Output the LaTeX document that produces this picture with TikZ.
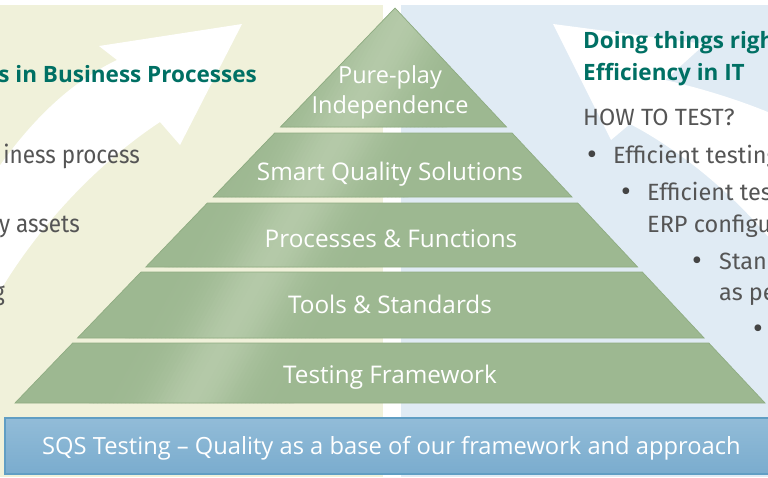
\documentclass[tikz,border=0pt]{standalone}
\usepackage{fontspec}
\setmainfont{Fira Sans}
\newfontfamily\condfont[FakeStretch=0.9]{Fira Sans}
\newfontfamily\opensans{Open Sans}
\definecolor{leftbg}{RGB}{240,241,218}
\definecolor{rightbg}{RGB}{224,235,244}
\definecolor{pyrgreen}{RGB}{157,184,145}
\definecolor{pyrlight}{RGB}{180,201,168}
\definecolor{pyredge}{RGB}{143,172,130}
\definecolor{titleteal}{RGB}{0,112,100}
\definecolor{graytext}{RGB}{85,85,85}
\definecolor{bartop}{RGB}{146,188,216}
\definecolor{barmid}{RGB}{160,196,221}
\definecolor{barbot}{RGB}{122,172,206}
\definecolor{barborder}{RGB}{96,158,196}
\tikzset{
  titletext/.style={font=\opensans\bfseries\fontsize{22.5}{26}\selectfont, text=titleteal, inner sep=0pt},
  lefttext/.style={font=\condfont\fontsize{25}{29}\selectfont, text=graytext, inner sep=0pt},
  righttext/.style={font=\fontsize{23.5}{27}\selectfont, text=graytext, inner sep=0pt},
  bullet/.style={font=\fontsize{30}{30}\selectfont, text=graytext!80!black, inner sep=0pt},
  pyrtext/.style={font=\opensans\fontsize{24.3}{28}\selectfont, text=white, inner sep=0pt},
  pyrtop/.style={font=\opensans\fontsize{23.5}{28}\selectfont, text=white, inner sep=0pt},
  bartext/.style={font=\opensans\fontsize{23.7}{28}\selectfont, text=white, inner sep=0pt},
  whitearrow/.style={fill=white},
  layer/.style={draw=pyredge, line width=0.7pt}
}
\begin{document}
\begin{tikzpicture}[x=1pt,y=-1pt]
\useasboundingbox (0,0) rectangle (768,477);
\clip (0,0) rectangle (768,477);
% backgrounds
\fill[white] (0,0) rectangle (768,477);
\fill[leftbg] (0,5) rectangle (383,477);
\fill[rightbg] (401,5) rectangle (768,477);
% white arrows
\fill[whitearrow] (-4,171) .. controls (35,115) and (75,80) .. (117,60) -- (99,46) -- (242,24)
  -- (180,145) -- (160,122) .. controls (95,165) and (35,230) .. (-4,298) -- cycle;
\fill[whitearrow] (553,24) -- (611,140) -- (630,124) .. controls (680,150) and (735,195) .. (775,245)
  -- (775,115) .. controls (740,100) and (700,88) .. (665,80) -- (705,44) -- cycle;
% pyramid
\begin{scope}
\clip (395,8) -- (506.5,127) -- (280.5,127) -- cycle
      (274.7,133) -- (512.1,133) -- (572,197) -- (213.2,197) -- cycle
      (207.4,203) -- (577.7,203) -- (637.6,267) -- (145.8,267) -- cycle
      (141,272) -- (642.3,272) -- (704.1,338) -- (77.5,338) -- cycle
      (72.7,343) -- (708.8,343) -- (765,403) -- (15,403) -- cycle;
\fill[pyrgreen] (0,0) rectangle (768,410);
\foreach \d in {-100,-96,...,100} {
  \pgfmathsetmacro\p{100*exp(-((\d/42)^2))}
  \fill[pyrlight!\p!pyrgreen] ({187.5+\d},406) -- ({192.5+\d},406) -- ({417.5+\d},0) -- ({412.5+\d},0) -- cycle;
}
\end{scope}
\draw[layer] (395,8) -- (506.5,127) -- (280.5,127) -- cycle;
\draw[layer] (274.7,133) -- (512.1,133) -- (572,197) -- (213.2,197) -- cycle;
\draw[layer] (207.4,203) -- (577.7,203) -- (637.6,267) -- (145.8,267) -- cycle;
\draw[layer] (141,272) -- (642.3,272) -- (704.1,338) -- (77.5,338) -- cycle;
\draw[layer] (72.7,343) -- (708.8,343) -- (765,403) -- (15,403) -- cycle;
% pyramid labels
\node[pyrtop, anchor=base] (pure) at (390,83) {Pure-play};
\node[pyrtop, anchor=base] (indep) at (390,113) {Independence};
\node[pyrtext, anchor=base] (smart) at (390,180) {Smart Quality Solutions};
\node[pyrtext, anchor=base] (proc) at (391,247) {Processes \& Functions};
\node[pyrtext, anchor=base] (tools) at (390,313) {Tools \& Standards};
\node[pyrtext, anchor=base] (testfw) at (390,383) {Testing Framework};
% left texts
\node[titletext, anchor=base east] (lefttitle) at (257,82) {s in Business Processes};
\node[lefttext, anchor=base east] (l1) at (140,163) {iness process};
\node[lefttext, anchor=base east] (l2) at (80,232) {y assets};
\node[lefttext, anchor=base east] (l3) at (5,300) {g};
% right texts
\node[titletext, anchor=base west] (rt1) at (583,48) {Doing things righ};
\node[titletext, anchor=base west] (rt2) at (583,80) {Efficiency in IT};
\node[righttext, anchor=base west] (how) at (583,125) {HOW TO TEST?};
\node[bullet, anchor=base] (b1) at (592,164) {•};
\node[righttext, anchor=base west] (r1) at (613,163) {Efficient testing};
\node[bullet, anchor=base] (b2) at (626,201) {•};
\node[righttext, anchor=base west] (r2) at (647,200) {Efficient tes};
\node[righttext, anchor=base west] (r3) at (647,232) {ERP configu};
\node[bullet, anchor=base] (b3) at (697,270) {•};
\node[righttext, anchor=base west] (r4) at (719,269) {Stanc};
\node[righttext, anchor=base west] (r5) at (719,300) {as pe};
\node[bullet, anchor=base] (b4) at (758,338) {•};
% bottom bar
\shade[top color=bartop, middle color=barmid, bottom color=barbot] (5,418) rectangle (775,474);
\draw[barborder, line width=1.2pt] (5,418) rectangle (775,474);
\node[bartext, anchor=base west] (bar) at (42,454) {SQS Testing – Quality as a base of our framework and approach};
\end{tikzpicture}
\end{document}
